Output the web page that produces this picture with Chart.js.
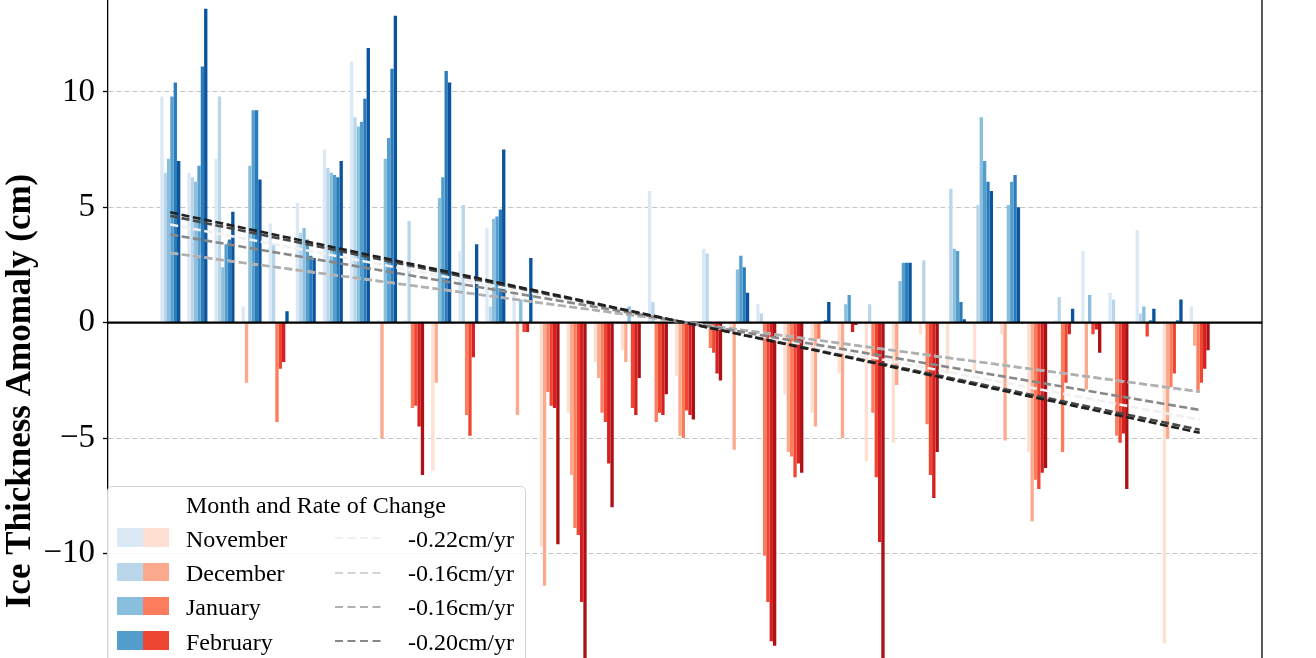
<!DOCTYPE html>
<html>
<head>
<meta charset="utf-8">
<title>Ice Thickness Anomaly</title>
<script src="https://cdn.jsdelivr.net/npm/chart.js@4.4.1/dist/chart.umd.min.js"></script>
<style>
  html, body { margin: 0; padding: 0; background: #fff; overflow: hidden; }
  #wrap { position: relative; width: 1316px; height: 658px; overflow: hidden; }
  #chart { position: absolute; left: 0; top: -44px; }
  #legend {
    position: absolute; left: 107px; top: 486px; width: 417px; height: 178px;
    background: rgba(255, 255, 255, 0.8); border: 1px solid #d3d3d3; border-radius: 5px;
    font-family: "Liberation Serif", "Times New Roman", serif; font-size: 24px; line-height: 24px; color: #000;
  }
  #legend div, #legend span, #legend svg { position: absolute; white-space: nowrap; }
</style>
</head>
<body>
<div id="wrap">
  <canvas id="chart" width="1316" height="870"></canvas>
  <div id="legend"></div>
</div>
<script>
// winters (x axis is cropped off in the reference)
const years = [1979, 1980, 1981, 1982, 1983, 1984, 1985, 1986, 1987, 1988,
               1989, 1990, 1991, 1992, 1993, 1994, 1995, 1996, 1997, 1998,
               1999, 2000, 2001, 2002, 2003, 2004, 2005, 2006, 2007, 2008,
               2009, 2010, 2011, 2012, 2013, 2014, 2015, 2016, 2017];

// anomaly (cm) per month
const nov = [9.8, 6.5, 7.1, 0.7, 4.3, 5.2, 7.5, 11.3, 0.1, 0.1,
             -6.4, 3.1, 4.1, 1.3, -9.7, -3.9, -1.7, -1.2, 5.7, -2.3,
             3.2, -0.3, 0.8, -3.1, -3.9, -2.2, -6.0, -5.2, -0.5, -2.2,
             -2.1, -0.5, -5.6, 0.1, 3.1, 1.3, 4.0, -13.9, 0.7];
const dec = [6.5, 6.3, 9.8, -2.6, 3.4, 3.9, 6.7, 8.9, -5.0, 4.4,
             -2.6, 5.1, 0.7, -4.0, -11.4, -6.6, -2.4, -1.7, 0.9, -4.9,
             3.0, -5.5, 0.4, -5.6, -4.5, -5.0, 0.8, -2.7, 2.7, 5.8,
             5.1, -5.1, -8.6, 1.1, -2.9, 1.0, 0.4, -5.0, -1.0];
const jan = [7.1, 6.1, 2.4, 6.8, -4.3, 4.1, 6.5, 8.5, 7.1, -3.7,
             5.4, -4.0, 4.5, 1.0, -3.0, -8.9, -3.9, 0.7, -4.3, -5.0,
             -1.1, 2.3, -10.1, -5.8, -0.7, 0.8, -3.9, 1.8, -4.4, 3.2,
             8.9, 5.1, -6.8, -5.6, 1.2, -4.9, 0.7, -2.8, -3.0];
const feb = [9.8, 6.8, 3.4, 9.2, -2.0, 3.6, 6.4, 8.7, 8.0, -3.6,
             6.3, -4.9, 4.6, -0.4, -3.6, -9.2, -4.3, -3.7, -3.9, -3.8,
             -1.3, 2.9, -12.1, -6.7, 0.05, 1.2, -6.7, 2.6, -6.6, 3.1,
             7.0, 6.1, -7.2, -2.6, -0.5, -5.2, -0.6, -2.2, -2.6];
const mar = [10.4, 11.1, 3.6, 9.2, -1.7, 2.9, 6.3, 9.7, 11.0, -4.5,
             10.9, -1.5, 4.9, -0.4, -3.7, -12.1, -6.1, -4.0, -4.0, -4.0,
             -2.2, 2.4, -13.8, -6.1, 0.1, -0.4, -9.5, 2.6, -7.6, 0.9,
             6.1, 6.4, -6.5, -0.5, -0.3, -4.8, 0.1, 0.1, -2.0];
const apr = [7.0, 13.6, 4.8, 6.2, 0.5, 2.8, 7.0, 11.9, 13.3, -6.6,
             10.4, 3.4, 7.5, 2.8, -9.6, -15.5, -8.0, -2.4, -3.1, -4.2,
             -2.5, 1.3, -14.0, -6.5, 0.9, -0.1, -16.0, 2.6, -5.6, 0.15,
             5.7, 5.0, -6.3, 0.6, -1.3, -7.2, 0.6, 1.0, -1.2];

// trend line values at the first and last winter
const trendFirst = [4.25, 3.02, 3.02, 3.82, 4.63, 4.78];
const trendLast = [-4.20, -2.99, -2.99, -3.78, -4.64, -4.77];

const monthNames = ['November', 'December', 'January', 'February', 'March', 'April'];
const rateLabels = ['-0.22cm/yr', '-0.16cm/yr', '-0.16cm/yr', '-0.20cm/yr'];
const yTicks = [-10, -5, 0, 5, 10];

const blues = ['#dbe9f6', '#bad6eb', '#89bedc', '#539ecd', '#2b7bba', '#0b559f'];
const reds = ['#fee0d2', '#fcaa8d', '#fb7d5d', '#ef4533', '#d42020', '#ad1116'];
const lineColors = ['#f0f0f0', '#d4d4d4', '#b0b0b0', '#888888', '#484848', '#202020'];

const serif = '"Liberation Serif", "Times New Roman", serif';
const series = [nov, dec, jan, feb, mar, apr];

const barSets = series.map((vals, m) => ({
    type: 'bar',
    label: monthNames[m],
    data: vals.map((v, i) => ({ x: years[i], y: v })),
    backgroundColor: vals.map(v => v < 0 ? reds[m] : blues[m]),
    borderWidth: 0,
    categoryPercentage: 0.74,
    barPercentage: 1.0,
    order: 2
}));

const lineSets = series.map((_, m) => ({
    type: 'line',
    label: monthNames[m] + ' trend',
    data: [
        { x: years[0], y: trendFirst[m] },
        { x: years[years.length - 1], y: trendLast[m] }
    ],
    borderColor: lineColors[m],
    borderWidth: 2.6,
    borderDash: [8, 3.5],
    pointRadius: 0,
    fill: false,
    order: 1 + (5 - m) * 0.1
}));

// zero line over the bars, right spine on top
const framePlugin = {
    id: 'frame',
    afterDatasetDraw(chart, args) {
        if (args.index !== 0) return;
        const { ctx, chartArea: a, scales: { y } } = chart;
        const y0 = y.getPixelForValue(0);
        ctx.save();
        ctx.strokeStyle = '#000';
        ctx.lineWidth = 2.2;
        ctx.beginPath();
        ctx.moveTo(a.left, y0);
        ctx.lineTo(a.right, y0);
        ctx.stroke();
        ctx.restore();
    },
    afterDraw(chart) {
        const { ctx, chartArea: a } = chart;
        ctx.save();
        ctx.strokeStyle = '#000';
        ctx.lineWidth = 1.3;
        ctx.beginPath();
        ctx.moveTo(a.right, a.top);
        ctx.lineTo(a.right, a.bottom);
        ctx.stroke();
        ctx.restore();
    }
};

new Chart(document.getElementById('chart'), {
    data: { datasets: [...barSets, ...lineSets] },
    options: {
        responsive: false,
        animation: false,
        layout: { padding: { top: 24, bottom: 24, left: 0, right: 54 } },
        plugins: { legend: { display: false }, tooltip: { enabled: false } },
        scales: {
            x: {
                type: 'linear',
                display: false,
                offset: false,
                min: years[0] - 2.3,
                max: years[years.length - 1] + 2.3,
                ticks: { stepSize: 10 }
            },
            y: {
                min: -20.6,
                max: 14.68,
                afterBuildTicks: s => { s.ticks = yTicks.map(v => ({ value: v })); },
                afterFit: s => { s.width = 108; },
                ticks: {
                    font: { family: serif, size: 33 },
                    color: '#000',
                    padding: 8,
                    callback: v => v < 0 ? '\u2212' + Math.abs(v) : String(v)
                },
                grid: {
                    color: c => (c.tick && c.tick.value === 0) ? 'rgba(0,0,0,0)' : '#c4c4c4',
                    lineWidth: 1,
                    tickLength: 5,
                    tickColor: '#000',
                    tickWidth: 1.3,
                    tickBorderDash: []
                },
                border: { display: true, color: '#000', width: 1.3, dash: [5, 3] },
                title: {
                    display: true,
                    text: 'Ice Thickness Amomaly (cm)',
                    font: { family: serif, size: 35, weight: 'bold' },
                    color: '#000',
                    padding: { top: 0, bottom: 0 }
                }
            }
        }
    },
    plugins: [framePlugin]
});

// legend: title, paired swatches, trend dash, rate
const legend = document.getElementById('legend');
let html = '<div style="left:78px;top:6px">Month and Rate of Change</div>';
rateLabels.forEach((rate, m) => {
    const top = 39.6 + 34.3 * m;
    html += `<span style="left:9px;top:${top + 1.7}px;width:26px;height:18.5px;background:${blues[m]}"></span>`;
    html += `<span style="left:35px;top:${top + 1.7}px;width:26px;height:18.5px;background:${reds[m]}"></span>`;
    html += `<div style="left:78px;top:${top}px">${monthNames[m]}</div>`;
    html += `<svg style="left:227px;top:${top + 9.7}px" width="50" height="4"><line x1="0" y1="2" x2="50" y2="2" stroke="${lineColors[m]}" stroke-width="2.2" stroke-dasharray="8 4.5"/></svg>`;
    html += `<div style="left:300px;top:${top}px">${rate}</div>`;
});
legend.innerHTML = html;
</script>
</body>
</html>
